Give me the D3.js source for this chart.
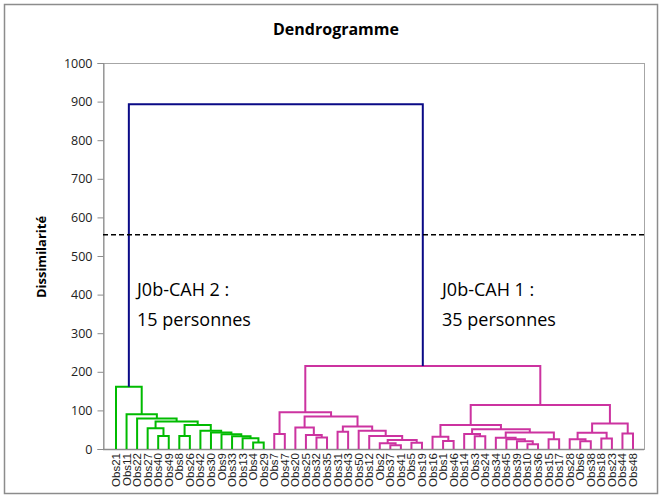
<!DOCTYPE html>
<html>
<head>
<meta charset="utf-8">
<script src="https://cdn.jsdelivr.net/npm/d3@7"></script>
<style>
	body {margin:0; background:#fff;}
	text {font-family:"Liberation Sans", Arial, sans-serif;}
</style>
</head>
<body>
<script>

//leaf order along the x axis
var leaves = ["Obs21","Obs11","Obs22","Obs27","Obs40","Obs49","Obs8","Obs26","Obs42","Obs30",
	"Obs9","Obs33","Obs13","Obs4","Obs29",
	"Obs7","Obs47","Obs20","Obs25","Obs32","Obs35","Obs31","Obs43","Obs50","Obs12",
	"Obs2","Obs37","Obs41","Obs5","Obs19",
	"Obs16","Obs1","Obs46","Obs14","Obs3","Obs24","Obs34","Obs45","Obs39","Obs10",
	"Obs36","Obs15","Obs17","Obs28","Obs6","Obs38","Obs18","Obs23","Obs44","Obs48"];

//merges: [left, right, dissimilarity] ; strings = leaves, numbers = earlier merge rows
var merges = [
	["Obs4","Obs29",17],   //0
	["Obs13",0,28],        //1
	["Obs33",1,33],        //2
	["Obs9",2,38],         //3
	["Obs30",3,43],        //4
	["Obs42",4,47],        //5
	["Obs8","Obs26",34],   //6
	[6,5,62],              //7
	["Obs40","Obs49",34],  //8
	["Obs27",8,54],        //9
	[9,7,71],              //10
	["Obs22",10,79],       //11
	["Obs11",11,90],       //12
	["Obs21",12,161],      //13 green group
	["Obs7","Obs47",39],   //14
	["Obs32","Obs35",30],  //15
	["Obs25",15,36],       //16
	["Obs20",16,56],       //17
	["Obs37","Obs41",10],  //18
	["Obs2",18,15],        //19
	["Obs5","Obs19",16],   //20
	[19,20,23],            //21
	["Obs12",21,34],       //22
	["Obs50",22,47],       //23
	["Obs31","Obs43",45],  //24
	[24,23,58],            //25
	[17,25,84],            //26
	[14,26,95],            //27
	["Obs1","Obs46",21],   //28
	["Obs16",28,32],       //29
	["Obs3","Obs24",33],   //30
	["Obs14",30,39],       //31
	["Obs10","Obs36",12],  //32
	["Obs39",32,20],       //33
	["Obs45",33,25],       //34
	["Obs34",34,29],       //35
	["Obs15","Obs17",25],  //36
	[35,36,43],            //37
	[31,37,51],            //38
	[29,38,62],            //39
	["Obs6","Obs38",20],   //40
	["Obs28",40,25],       //41
	["Obs18","Obs23",27],  //42
	[41,42,42],            //43
	["Obs44","Obs48",40],  //44
	[43,44,66],            //45
	[39,45,114],           //46
	[27,46,215],           //47 magenta group
	[13,47,893]            //48 root
];

var cutHeight = 555;
var yTicks = d3.range(0, 1001, 100);
var groupColors = ["#00bb00", "#cc33a0"],
	rootColor = "#0a0a86";
var groupTitles = ["J0b-CAH 2 :", "J0b-CAH 1 :"],
	groupCounts = ["15 personnes", "35 personnes"];

var W = 662, H = 498;

var svg = d3.select("body").append("svg")
	.attr("width", W)
	.attr("height", H);

//outer frame
svg.append("rect")
	.attr("x", 4.5).attr("y", 4.5)
	.attr("width", W - 9).attr("height", H - 9)
	.style("fill", "none")
	.style("stroke", "#8c8c8c")
	.style("stroke-width", 1.5);

var plotL = 103, plotR = 644, plotT = 63, plotB = 449;

var xScale = d3.scalePoint().domain(leaves).range([116, 633]);
var yScale = d3.scaleLinear().domain([0, 1000]).range([plotB, plotT]);

//plot area border
svg.append("rect")
	.attr("x", plotL + 0.5).attr("y", plotT + 0.5)
	.attr("width", plotR - plotL).attr("height", plotB - plotT)
	.style("fill", "none")
	.style("stroke", "#a6a6a6")
	.style("stroke-width", 1);

//y axis
var gY = svg.append("g")
	.attr("transform", "translate(" + (plotL + 0.5) + ",0)")
	.call(d3.axisLeft(yScale).tickValues(yTicks).tickSize(6).tickPadding(5).tickFormat(d3.format("d")));
gY.selectAll("path, line").style("stroke", "#8c8c8c");
gY.selectAll("text").style("font-size", "12.5px").style("fill", "#222")
	.style("font-family", "'Open Sans', sans-serif");

//x axis baseline
svg.append("line")
	.attr("x1", plotL).attr("x2", plotR)
	.attr("y1", plotB + 0.5).attr("y2", plotB + 0.5)
	.style("stroke", "#8c8c8c")
	.style("stroke-width", 1.5);

//leaf labels
svg.append("g").selectAll("text")
	.data(leaves).enter()
		.append("text")
		.attr("transform", function(d) {return "translate(" + (xScale(d) + 4) + "," + (plotB + 4) + ") rotate(-90)";})
		.style("text-anchor", "end")
		.style("font-size", "11.5px")
		.style("fill", "#222")
		.text(function(d) {return d;});

//build the tree
var built = [];
function nodeOf(ref){
	if (typeof ref === "string") return {name: ref, h: 0, x: xScale(ref)};
	return built[ref];
}
merges.forEach(function(m){
	var l = nodeOf(m[0]), r = nodeOf(m[1]);
	var n = {children: [l, r], h: m[2], x: (l.x + r.x) / 2};
	built.push(n);
});
var root = built[built.length - 1];

//colour each node: above the cut = root colour, below = group of its top cluster
var groupCount = 0;
function colour(n, c){
	if (!n.children) return;
	if (n.h > cutHeight) {
		n.color = rootColor;
		n.children.forEach(function(ch){ colour(ch, null); });
	} else {
		if (c === null) { c = groupColors[groupCount]; groupCount += 1; }
		n.color = c;
		n.children.forEach(function(ch){ colour(ch, c); });
	}
}
colour(root, null);

svg.append("g").selectAll("path")
	.data(built).enter()
		.append("path")
		.attr("d", function(n) {
			var l = n.children[0], r = n.children[1];
			return "M" + l.x + "," + yScale(l.h) + "V" + yScale(n.h) + "H" + r.x + "V" + yScale(r.h);
		})
		.style("fill", "none")
		.style("stroke", function(n) {return n.color;})
		.style("stroke-width", 2);

//cut line
svg.append("line")
	.attr("x1", plotL).attr("x2", plotR)
	.attr("y1", yScale(cutHeight)).attr("y2", yScale(cutHeight))
	.style("stroke", "#000")
	.style("stroke-width", 1.5)
	.style("stroke-dasharray", "5,3");

//title and axis label
svg.append("text")
	.attr("x", 336).attr("y", 35)
	.style("text-anchor", "middle")
	.style("font-size", "16px")
	.style("font-weight", "bold")
	.style("font-family", "'Open Sans', sans-serif")
	.text("Dendrogramme");
svg.append("text")
	.attr("transform", "translate(46,257) rotate(-90)")
	.style("text-anchor", "middle")
	.style("font-size", "13px")
	.style("font-weight", "bold")
	.style("font-family", "'Open Sans', sans-serif")
	.text("Dissimilarité");

//group annotations
var annX = [137, 442];
groupTitles.forEach(function(t, i){
	svg.append("text")
		.attr("x", annX[i]).attr("y", 296)
		.style("font-size", "18px")
		.style("font-family", "'Open Sans', sans-serif")
		.text(t);
	svg.append("text")
		.attr("x", annX[i]).attr("y", 326)
		.style("font-size", "18px")
		.style("font-family", "'Open Sans', sans-serif")
		.text(groupCounts[i]);
});

</script>
</body>
</html>
